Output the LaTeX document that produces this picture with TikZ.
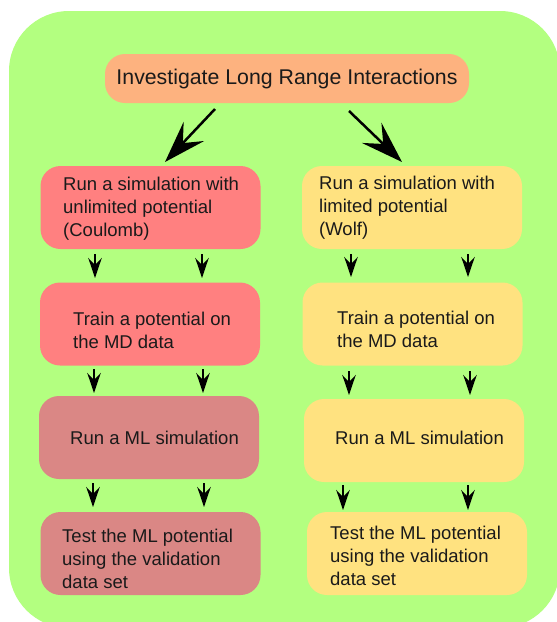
\documentclass[tikz,border=0pt]{standalone}
\usepackage{fontspec}
\setmainfont{Liberation Sans}
\usetikzlibrary{arrows.meta,calc}
\definecolor{bggreen}{HTML}{B3FF80}
\definecolor{boxorange}{HTML}{FDB27F}
\definecolor{boxred}{HTML}{FF8080}
\definecolor{boxdark}{HTML}{DA8785}
\definecolor{boxyellow}{HTML}{FFE280}
\definecolor{txtcol}{HTML}{1A1A1A}
\begin{document}
\begin{tikzpicture}[x=1pt,y=-1pt,
  box/.style={draw=none, rounded corners=20pt, minimum width=220pt, minimum height=83pt, inner sep=0pt},
  txt/.style={anchor=west, align=left, font=\fontsize{18.5}{23}\selectfont, inner sep=0pt, text=txtcol},
  smallarrow/.style={-{Stealth[length=20pt,width=13.5pt,inset=7pt]}, line width=1.6pt},
  bigarrow/.style={-{Stealth[length=42pt,width=28pt,inset=16pt]}, line width=2.5pt}]
\useasboundingbox (0,0) rectangle (557,622);
\begin{scope}
  \clip (0,0) rectangle (557,622);
  \fill[bggreen, rounded corners=60pt] (9,11) rectangle (560,628);
\end{scope}
% title
\node[box, fill=boxorange, minimum width=364pt, minimum height=49pt, font=\fontsize{21.3}{25}\selectfont, text=txtcol] (title) at (287,78.5) {Investigate Long Range Interactions};
% left column
\node[box, fill=boxred] (L1) at (150.5,207.5) {};
\node[box, fill=boxred] (L2) at (150,324) {};
\node[box, fill=boxdark] (L3) at (149,437.5) {};
\node[box, fill=boxdark] (L4) at (150.5,553.5) {};
% right column
\node[box, fill=boxyellow] (R1) at (412,207.5) {};
\node[box, fill=boxyellow] (R2) at (412.5,324) {};
\node[box, fill=boxyellow] (R3) at (414,440.5) {};
\node[box, fill=boxyellow] (R4) at (417,553.5) {};
% texts
\node[txt] (L1t) at (63,209) {Run a simulation with\\unlimited potential\\(Coulomb)};
\node[txt] (L2t) at (73,330) {Train a potential on\\the MD data};
\node[txt] (L3t) at (70,438) {Run a ML simulation};
\node[txt] (L4t) at (62,559) {Test the ML potential\\using the validation\\data set};
\node[txt] (R1t) at (319,208) {Run a simulation with\\limited potential\\(Wolf)};
\node[txt] (R2t) at (337,329.5) {Train a potential on\\the MD data};
\node[txt] (R3t) at (335,438) {Run a ML simulation};
\node[txt] (R4t) at (330,556) {Test the ML potential\\using the validation\\data set};
% big arrows
\coordinate (bls) at (215,109);
\coordinate (ble) at (165,162);
\coordinate (brs) at (349,111);
\coordinate (bre) at (402,162);
\draw[bigarrow] (bls) -- (ble);
\draw[bigarrow] (brs) -- (bre);
% small arrows
\foreach \n/\x/\ya/\yb in {a/95/254/278, b/202/254/278, c/94/369/393, d/203/369/393, e/93/483/507, f/204/483/507,
  g/351/254/277, h/468/254/277, i/349/371/395, j/470/371/395, k/343/485/510, l/468/485/510}{
  \coordinate (\n s) at (\x,\ya);
  \coordinate (\n e) at (\x,\yb);
  \draw[smallarrow] (\n s) -- (\n e);
}
\end{tikzpicture}
\end{document}
